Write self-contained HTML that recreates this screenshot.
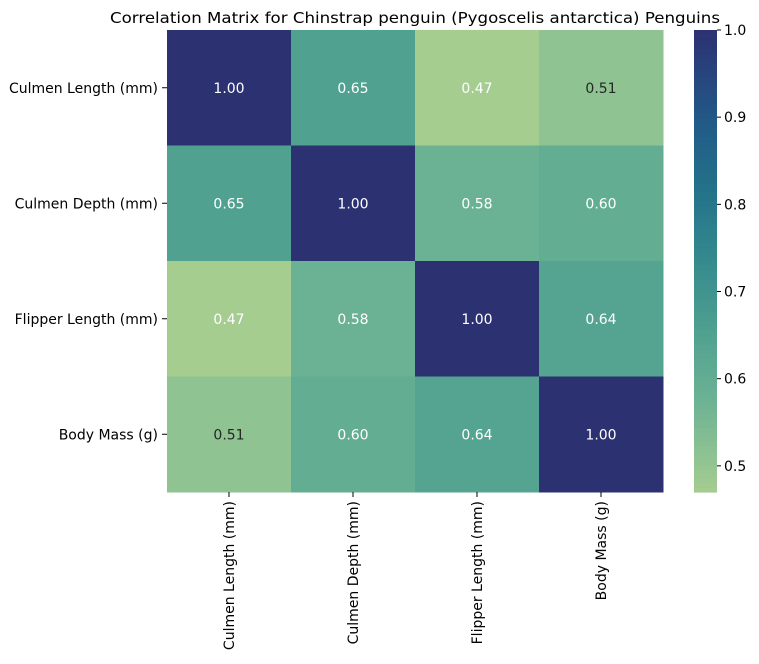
<!DOCTYPE html>
<html><head><meta charset="utf-8"><style>
body{margin:0;background:#fff;font-family:"Liberation Sans","DejaVu Sans",sans-serif;}
svg text{font-family:"DejaVu Sans","Liberation Sans",sans-serif;}
</style></head><body>
<svg id="chart" width="759" height="659" xmlns="http://www.w3.org/2000/svg">
<text x="415" y="23" text-anchor="middle" font-size="15.5" textLength="610" lengthAdjust="spacingAndGlyphs">Correlation Matrix for Chinstrap penguin (Pygoscelis antarctica) Penguins</text>
<g id="cells"></g><g id="axes"></g><g id="cbar"></g>
</svg>
<script>
const labels=["Culmen Length (mm)","Culmen Depth (mm)","Flipper Length (mm)","Body Mass (g)"];
const row0=[1.00,0.65,0.47,0.51];
const row1=[0.65,1.00,0.58,0.60];
const row2=[0.47,0.58,1.00,0.64];
const row3=[0.51,0.60,0.64,1.00];
const matrix=[row0,row1,row2,row3];
const cbTicks=[0.5,0.6,0.7,0.8,0.9,1.0];
const vmin=0.47,vmax=1.0;
const X0=167,Y0=30,W=496,H=462;
const stops=[[0,"#a5cd90"],[0.2,"#6cb294"],[0.35,"#4fa090"],[0.5,"#358a8d"],[0.65,"#23738a"],[0.8,"#215a87"],[0.9,"#27467e"],[1,"#2c3172"]];
function hex(h){return [1,3,5].map(i=>parseInt(h.substr(i,2),16));}
function color(v){let t=Math.max(0,Math.min(1,(v-vmin)/(vmax-vmin)));
for(let i=1;i<stops.length;i++){if(t<=stops[i][0]){const a=stops[i-1],b=stops[i];const f=(t-a[0])/(b[0]-a[0]);const ca=hex(a[1]),cb=hex(b[1]);return "rgb("+ca.map((c,k)=>Math.round(c+(cb[k]-c)*f)).join(",")+")";}}return stops[stops.length-1][1];}
const NS="http://www.w3.org/2000/svg";
function el(t,a,p){const e=document.createElementNS(NS,t);for(const k in a)e.setAttribute(k,a[k]);p.appendChild(e);return e;}
const n=labels.length,cw=W/n,ch=H/n;
const xs=i=>X0+i*cw, ys=i=>Y0+i*ch;
const cells=document.getElementById('cells'),axes=document.getElementById('axes'),cbar=document.getElementById('cbar');
matrix.forEach((r,i)=>r.forEach((v,j)=>{
 const rc=el('rect',{x:xs(j),y:ys(i),width:cw+0.5,height:ch+0.5,fill:color(v)},cells);
 
 
 const dark=(v>=0.52&&v<1.01)||v<0.49;
 const t=el('text',{x:xs(j)+cw/2,y:ys(i)+ch/2+5,'text-anchor':'middle','font-size':'14',fill:dark?'#fff':'#262626'},cells);
 t.textContent=v.toFixed(2);
 
 
}));
labels.forEach((l,i)=>{
 el('line',{x1:X0-5,x2:X0,y1:ys(i)+ch/2,y2:ys(i)+ch/2,stroke:'#000'},axes);
 const t=el('text',{x:X0-9,y:ys(i)+ch/2+5,'text-anchor':'end','font-size':'14'},axes);
 t.textContent=l;
 
 
 const cx=xs(i)+cw/2;
 el('line',{x1:cx,x2:cx,y1:Y0+H,y2:Y0+H+5,stroke:'#000'},axes);
 const tx=el('text',{x:cx+5,y:Y0+H+9,'text-anchor':'end','font-size':'14',transform:`rotate(-90 ${cx+5} ${Y0+H+9})`},axes);
 tx.textContent=l;
 
 
});
const CX=694,CW=23;
const cy=v=>Y0+H-(v-vmin)/(vmax-vmin)*H;
const N=100;
for(let k=0;k<N;k++){const v0=vmin+(vmax-vmin)*k/N,v1=vmin+(vmax-vmin)*(k+1)/N;
 const r=el('rect',{x:CX,y:cy(v1),width:CW,height:cy(v0)-cy(v1)+0.6,fill:color((v0+v1)/2)},cbar);
 
 }
cbTicks.forEach(v=>{const y=cy(v);
 el('line',{x1:CX+CW,x2:CX+CW+4,y1:y,y2:y,stroke:'#000'},cbar);
 const t=el('text',{x:CX+CW+7,y:y+5,'font-size':'14'},cbar);
 t.textContent=v.toFixed(1);
 
 });
</script>
</body></html>
